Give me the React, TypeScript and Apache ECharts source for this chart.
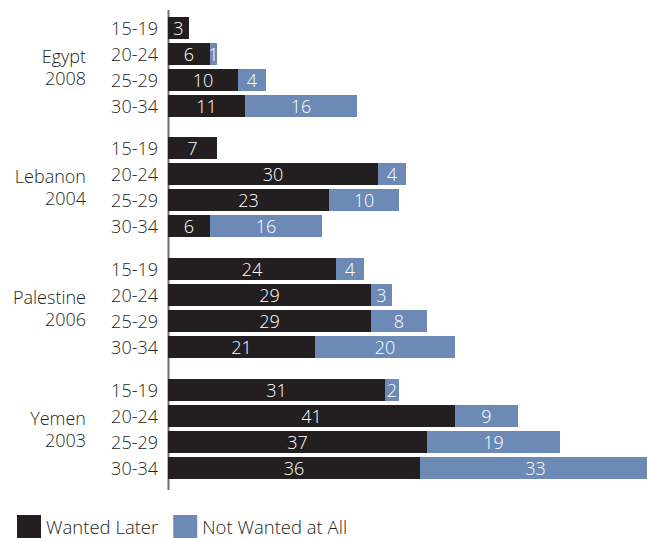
import React, { useEffect, useRef } from "react";
import * as echarts from "echarts";

const ageBands = ["15-19", "20-24", "25-29", "30-34"];
const groups = ["Egypt\n2008", "Lebanon\n2004", "Palestine\n2006", "Yemen\n2003"];
const wantedLater = [
  [3, 6, 10, 11],
  [7, 30, 23, 6],
  [24, 29, 29, 21],
  [31, 41, 37, 36],
];
const notWantedAtAll = [
  [null, 1, 4, 16],
  [null, 4, 10, 16],
  [4, 3, 8, 20],
  [2, 9, 19, 33],
];
const seriesNames = ["Wanted Later", "Not Wanted at All"];

const DARK = "#231f20";
const BLUE = "#6c8ab5";
const FONT = "'Open Sans'";
const WEIGHT = 300;
const FS = 18;

export default function App() {
  const ref = useRef<HTMLDivElement>(null);
  useEffect(() => {
    const chart = echarts.init(ref.current!, null, { renderer: "svg" });
    const tops = [15, 135, 256, 377];
    const rowH = 26;
    const grids = tops.map((t) => ({
      left: 168,
      top: t,
      width: 490,
      height: rowH * 4,
      outerBoundsMode: "none",
      containLabel: false,
    }));
    const xAxis = tops.map((_, i) => ({
      type: "value",
      gridIndex: i,
      min: 0,
      max: 70,
      interval: 10,
      show: false,
    }));
    const yAxis = tops.map((_, i) => ({
      type: "category",
      gridIndex: i,
      data: ageBands,
      inverse: true,
      axisLine: { show: false },
      axisTick: { show: false },
      axisLabel: {
        color: "#231f20",
        fontSize: FS,
        fontFamily: FONT,
        fontWeight: WEIGHT,
        margin: 10,
      },
    }));
    const label = {
      show: true,
      position: "inside",
      color: "#fff",
      fontSize: FS,
      fontFamily: FONT,
      fontWeight: WEIGHT,
    };
    const series: any[] = [];
    tops.forEach((_, i) => {
      series.push({
        name: seriesNames[0],
        type: "bar",
        stack: "s" + i,
        xAxisIndex: i,
        yAxisIndex: i,
        barWidth: 22,
        itemStyle: { color: DARK },
        label,
        data: wantedLater[i],
      });
      series.push({
        name: seriesNames[1],
        type: "bar",
        stack: "s" + i,
        xAxisIndex: i,
        yAxisIndex: i,
        barWidth: 22,
        itemStyle: { color: BLUE },
        label,
        data: notWantedAtAll[i],
      });
    });
    const graphic: any[] = [
      {
        type: "line",
        shape: { x1: 168.5, y1: 10, x2: 168.5, y2: 490 },
        style: { stroke: "#6d6d6d", lineWidth: 2 },
      },
      ...groups.map((g, i) => ({
        type: "text",
        x: 86,
        y: tops[i] + rowH * 2,
        style: {
          text: g,
          align: "right",
          verticalAlign: "middle",
          fontSize: FS,
          fontFamily: FONT,
          fontWeight: WEIGHT,
          lineHeight: 22,
          fill: "#231f20",
        },
      })),
    ];
    chart.setOption({
      animation: false,
      grid: grids,
      xAxis,
      yAxis,
      series,
      graphic,
      legend: {
        left: 17,
        top: 515,
        padding: 0,
        itemWidth: 24,
        itemHeight: 23,
        itemGap: 15,
        icon: "rect",
        data: seriesNames,
        textStyle: {
          fontSize: 18.5,
          fontFamily: FONT,
          fontWeight: WEIGHT,
          color: "#231f20",
        },
      },
    });
    return () => chart.dispose();
  }, []);
  return (
    <div
      ref={ref}
      style={{ position: "absolute", left: 0, top: 0, width: 647, height: 538 }}
    />
  );
}
